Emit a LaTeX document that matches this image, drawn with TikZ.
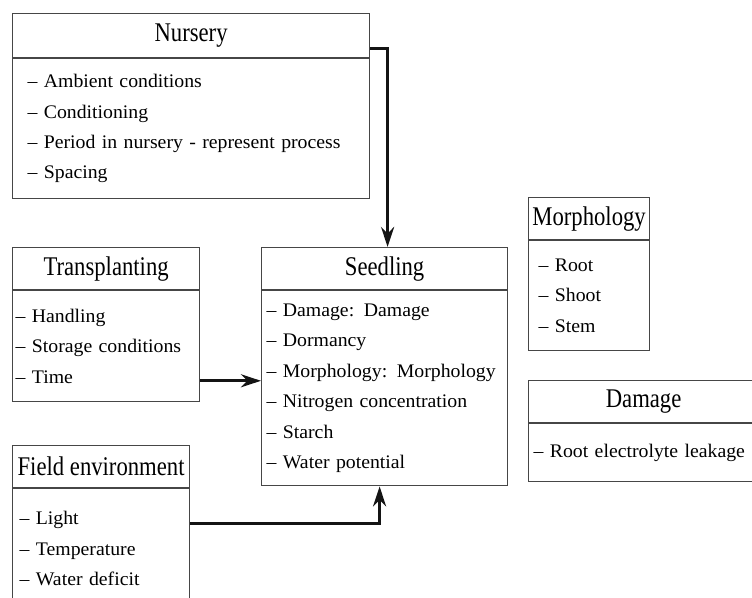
\documentclass[tikz,border=0pt]{standalone}
\usepackage{fontspec}
\setmainfont{Liberation Serif}
\newfontfamily\titlefont[FakeStretch=0.84]{Liberation Serif}
\newfontfamily\itemfont[FakeStretch=1.03]{Liberation Serif}
\usetikzlibrary{arrows.meta, positioning, calc}
\definecolor{boxline}{RGB}{70,70,70}
\definecolor{linkdark}{RGB}{20,20,20}
\hyphenpenalty=10000
\tikzset{
  hdr/.style={rectangle, draw=boxline, line width=0.6pt, anchor=north west, inner sep=0pt,
    minimum height=21pt, font=\titlefont\fontsize{13.5}{16}\selectfont},
  body/.style={rectangle, draw=boxline, line width=0.6pt, anchor=north west, inner ysep=0pt,
    align=left, font=\itemfont\fontsize{9.6}{15.2}\selectfont},
  link/.style={-{Stealth[length=10pt, width=6.5pt]}, line width=1.5pt, color=linkdark}
}

\begin{document}
\begin{tikzpicture}[x=0.5pt, y=-0.5pt]
\clip (0,0) rectangle (752,598);

% left column
\node[hdr, minimum width=178.5pt, minimum height=22pt] (nurH) at (12,13) {Nursery};
\node[body, text width=163.5pt, inner xsep=7.5pt, minimum height=70pt] (nurB) at (nurH.south west)
  {– Ambient conditions\\– Conditioning\\– Period in nursery - represent process\\– Spacing};

\node[hdr, minimum width=93.5pt] (traH) at (12,247) {Transplanting};
\node[body, text width=90.5pt, inner xsep=1.5pt, minimum height=55.5pt] (traB) at (traH.south west)
  {– Handling\\– Storage conditions\\– Time};

\node[hdr, minimum width=88.5pt] (fldH) at (12,445) {Field environment};
\node[body, text width=81.5pt, inner xsep=3.5pt, minimum height=60pt] (fldB) at (fldH.south west)
  {– Light\\– Temperature\\– Water deficit};

% centre
\node[hdr, minimum width=123pt] (seedH) at (261,247) {Seedling};
\node[body, text width=118pt, inner xsep=2.5pt, minimum height=97.5pt] (seedB) at (seedH.south west)
  {– Damage: Damage\\– Dormancy\\– Morphology: Morphology\\– Nitrogen concentration\\– Starch\\– Water potential};

% right column
\node[hdr, minimum width=60.5pt] (morH) at (528,197) {Morphology};
\node[body, text width=50.5pt, inner xsep=5pt, minimum height=55pt] (morB) at (morH.south west)
  {– Root\\– Shoot\\– Stem};

\node[hdr, minimum width=115pt] (damH) at (528,380) {Damage};
\node[body, text width=110pt, inner xsep=2.5pt, minimum height=29pt] (damB) at (damH.south west)
  {– Root electrolyte leakage};

% connectors into the seedling
\coordinate (nurOut) at ($(nurH.east)+(0,13)$);
\draw[link] (nurOut) -| ($(seedH.north)+(3,0)$);

\coordinate (traOut) at ($(traB.east)+(0,34.5)$);
\draw[link] (traOut) -- (traOut -| seedB.west);

\coordinate (fldOut) at ($(fldB.north east)+(0,35)$);
\draw[link] (fldOut) -| ($(seedB.south)+(-5,0)$);
\end{tikzpicture}
\end{document}
